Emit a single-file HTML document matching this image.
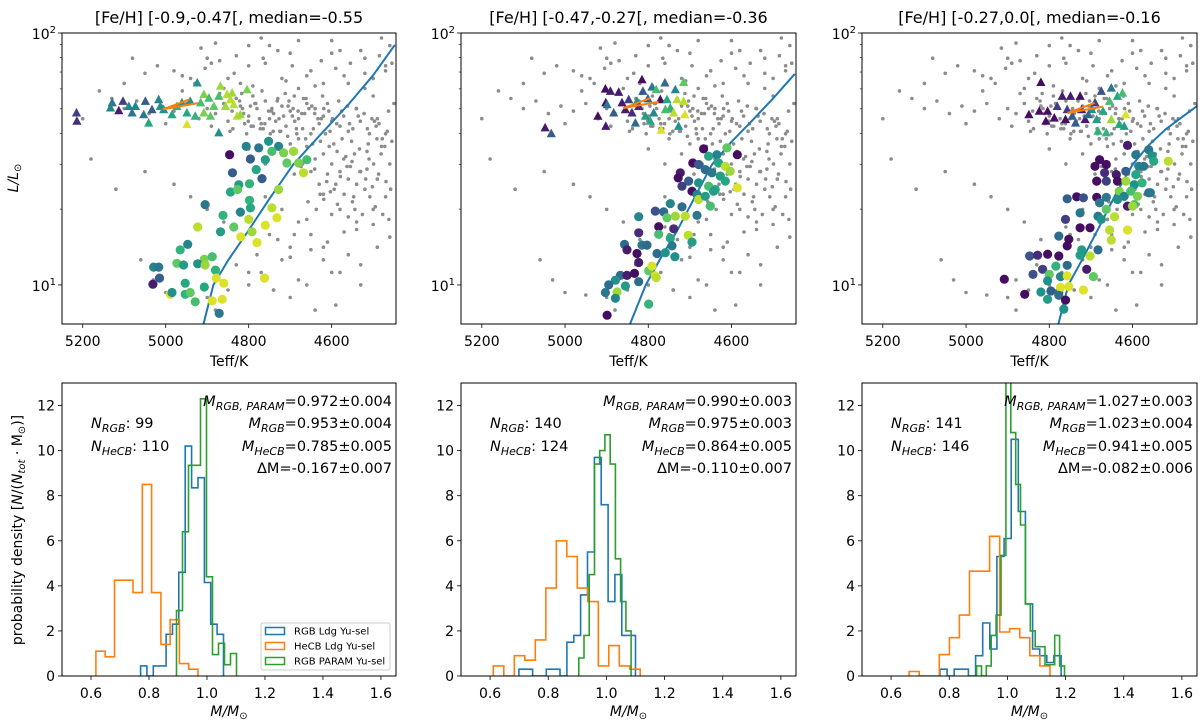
<!DOCTYPE html>
<html><head><meta charset="utf-8"><style>
body{margin:0;background:#fff}
svg{display:block;font-family:"DejaVu Sans","Liberation Sans",sans-serif}
</style></head><body>
<svg id="fig" width="1200" height="725" viewBox="0 0 1200 725" xmlns="http://www.w3.org/2000/svg"></svg>
<script>
// ---------------- DATA ----------------
const panelTitles = ["[Fe/H] [-0.9,-0.47[, median=-0.55","[Fe/H] [-0.47,-0.27[, median=-0.36","[Fe/H] [-0.27,0.0[, median=-0.16"];
const teffTicks = [5200,5000,4800,4600];
const massTicks = [0.6,0.8,1.0,1.2,1.4,1.6];
const densTicks = [0,2,4,6,8,10,12];

// background field stars (shared)
const grayTeff = [4900,4880,4860,4840,4820,4800,4780,4760,4740,4720,4700,4680,4660,4640,4620,4600,4580,4560,4790,4770,4750,4730,4710,4690,4670,4650,4630,4610,4850,4830,4810,4870,4950,4980,5010,5040,5070,5100,5130,5160,5200,4920,4960,5000,4890,
4980,4900,4850,4800,4760,4700,4650,4600,4560,4520,4480,4470,4500,4540,4450,4490,4620,4720,4680,4820,4930,5050,5100,4580,4770,4880,4460,4520,4470,
4620,4600,4580,4560,4540,4520,4640,4660,4680,4700,4610,4590,4570,4550,4530,4510,4490,4470,4650,4630,4620,4670,4690,4720,4750,4760,4800,4480,4460,4500,4540,4580,4600,
4650,4680,4700,4720,4750,4770,4800,4830,4850,4880,4900,4950,5000,5030,5060,4620,4600,4560,4530,4700,4740,4780,4820,4860,4900,4940,4980,5050,5120,5180,4660,4590,4640,4880,4720,4760,
4745,4705,4665,4625,4785,4815,4735,4695,4655,4575,4545,4515,4615,4685,4725,4765,4805,4845,4595,4555,
4812,4796,4774,4752,4731,4716,4693,4672,4648,4633,4607,4588,4571,4549,4531,4509,4493,4478,4822,4801,4783,4761,4744,4727,4703,4681,4662,4641,4619,4598,4576,4557,4536,4514,4497,4466,
4838,4817,4789,4768,4741,4712,4689,4668,4644,4622,4604,4583,4562,4541,4522,4503,4486,4463,4455,4472,4491,4512,4533,4552,4566,4587,4606,4627,4646,4663,4684,4706,4723,4748,4772,4794,
4532,4518,4502,4487,4469,4458,4547,4563,4579,4594,4612,4628,4641,4657,4674,4508,4495,4477,4462,4544,4526,4571,4586,4603,4619,4637,4481,4499,4515,4551,
4940,4905,4870,4835,4800,4765,4730,4695,4660,4625,4590,4555,4520,4485,4455,4915,4860,4790,4710,4640,4570,4500,4470,4530,4600,4680,4750,4830,4890,4960,5020,5080,
4760,4730,4690,4650,4610,4570,4530,4490,4700,4660,4620,4580,4540,4500,4460,4800,4740,4680,4560];
const grayLogL = [1.70,1.68,1.72,1.69,1.71,1.67,1.70,1.73,1.68,1.71,1.69,1.66,1.72,1.70,1.67,1.65,1.63,1.61,1.75,1.64,1.66,1.74,1.63,1.75,1.62,1.60,1.64,1.72,1.65,1.74,1.64,1.76,1.72,1.69,1.71,1.68,1.73,1.70,1.74,1.77,1.66,1.66,1.77,1.64,1.63,
1.85,1.90,1.82,1.95,1.88,1.92,1.85,1.97,1.80,1.90,1.98,1.85,1.75,1.70,1.72,1.66,1.80,1.82,1.78,1.80,1.80,1.84,1.80,1.93,1.98,1.96,1.95,1.78,1.60,
1.52,1.48,1.45,1.42,1.40,1.38,1.50,1.55,1.58,1.56,1.44,1.40,1.36,1.33,1.45,1.50,1.42,1.35,1.45,1.40,1.36,1.48,1.44,1.52,1.58,1.48,1.54,1.55,1.48,1.30,1.25,1.30,1.28,
1.20,1.25,1.15,1.10,1.20,1.05,1.00,1.08,0.98,1.02,0.95,0.96,0.97,1.02,1.10,1.15,1.05,1.12,1.00,0.95,0.98,1.12,1.18,1.25,1.30,1.35,1.40,1.45,1.38,1.50,1.00,0.92,0.90,0.90,1.30,1.35,
1.69,1.71,1.68,1.66,1.72,1.70,1.65,1.67,1.70,1.58,1.52,1.46,1.60,1.62,1.61,1.62,1.60,1.61,1.56,1.47,
1.68,1.71,1.66,1.69,1.73,1.67,1.70,1.68,1.71,1.66,1.69,1.64,1.67,1.62,1.65,1.60,1.63,1.58,1.73,1.65,1.72,1.64,1.70,1.66,1.73,1.69,1.74,1.68,1.70,1.66,1.69,1.64,1.67,1.62,1.65,1.61,
1.62,1.76,1.63,1.77,1.61,1.76,1.65,1.74,1.62,1.75,1.61,1.73,1.71,1.70,1.68,1.66,1.64,1.69,1.57,1.55,1.58,1.56,1.54,1.57,1.51,1.53,1.55,1.57,1.56,1.58,1.60,1.59,1.61,1.60,1.62,1.63,
1.45,1.42,1.39,1.44,1.41,1.38,1.35,1.47,1.43,1.38,1.41,1.36,1.46,1.33,1.47,1.35,1.31,1.28,1.26,1.30,1.28,1.50,1.32,1.37,1.34,1.30,1.52,1.48,1.53,1.49,
1.82,1.86,1.89,1.84,1.87,1.90,1.93,1.87,1.83,1.89,1.86,1.88,1.84,1.91,1.88,1.94,1.78,1.79,1.81,1.79,1.83,1.82,1.87,1.93,1.92,1.97,1.95,1.91,1.88,1.83,1.87,1.90,
1.23,1.18,1.20,1.14,1.17,1.21,1.08,1.15,1.11,1.26,1.10,1.05,1.22,1.24,1.19,1.05,0.98,1.02,1.27];

// panel 1
const p1TriTeff = [5215,5214,5129,5133,5103,5113,5089,5073,5081,5049,5053,5033,5017,5013,5005,5041,4985,4973,4961,4949,4941,4924,4916,4908,4896,4884,4868,4872,4852,4840,4836,4828,4820,4804,4949,4872,4892,4929,4908,4844,4856];
const p1TriLogL = [1.682,1.649,1.722,1.702,1.728,1.691,1.708,1.708,1.682,1.728,1.675,1.695,1.735,1.708,1.695,1.642,1.675,1.708,1.722,1.682,1.728,1.801,1.722,1.755,1.741,1.708,1.788,1.748,1.755,1.761,1.715,1.669,1.675,1.774,1.636,1.603,1.669,1.669,1.682,1.735,1.708];
const p1TriC = [0.2,0.15,0.4,0.45,0.2,0.1,0.45,0.45,0.4,0.3,0.4,0.3,0.45,0.5,0.5,0.6,0.6,0.65,0.55,0.6,0.5,0.5,0.7,0.8,0.7,0.75,0.85,0.7,0.9,0.85,0.9,0.9,0.85,0.8,0.95,0.5,0.75,0.65,0.8,0.9,0.85];
const p1CirTeff = [4846,4806,4776,4752,4728,4744,4716,4692,4708,4680,4660,4668,4796,4760,4782,4839,4768,4798,4824,4844,4827,4728,4905,4798,4820,4796,4862,4800,4744,4732,4923,4836,4868,4792,4760,4819,4780,4947,4965,4907,4888,4973,4957,4923,4905,4880,5029,5017,5015,5031,4953,4907,4878,4860,4989,4985,4953,4941,4929,4888,4864,4871,4762];
const p1CirLogL = [1.517,1.550,1.544,1.570,1.550,1.530,1.524,1.530,1.484,1.484,1.497,1.445,1.500,1.497,1.458,1.445,1.422,1.402,1.398,1.369,1.379,1.379,1.319,1.336,1.289,1.306,1.276,1.260,1.306,1.267,1.230,1.230,1.211,1.211,1.237,1.191,1.168,1.161,1.139,1.102,1.112,1.086,1.079,1.084,1.079,1.059,1.071,1.071,1.027,1.003,1.007,0.992,1.027,1.007,0.963,0.970,0.963,0.970,0.933,0.937,0.943,0.887,1.027];
const p1CirC = [0.05,0.45,0.4,0.5,0.45,0.7,0.8,0.85,0.75,0.8,0.7,0.9,0.3,0.55,0.6,0.3,0.3,0.65,0.55,0.6,0.75,0.85,0.4,0.65,0.45,0.6,0.65,0.9,0.9,0.95,0.9,0.75,0.55,0.85,0.95,0.95,0.95,0.45,0.65,0.8,0.7,0.75,0.55,0.5,0.85,0.65,0.45,0.4,0.3,0.1,0.6,0.6,0.95,0.95,0.95,0.5,0.65,0.75,0.7,0.95,0.95,0.4,0.95];
const p1TrackTeff = [4909,4885,4850,4800,4750,4693,4630,4560,4500,4448];
const p1TrackL = [7,10,12.5,16.5,22,30,39,52,68,89.6];

// panel 2
const p2TriTeff = [5048,5033,4921,4902,4903,4891,4871,4902,4899,4883,4863,4847,4855,4839,4831,4827,4815,4813,4801,4791,4787,4795,4781,4771,4760,4755,4747,4735,4731,4715,4715,4712,4727,4769,4739,4759,4823,4807];
const p2TriLogL = [1.623,1.600,1.669,1.629,1.777,1.768,1.764,1.722,1.715,1.682,1.722,1.735,1.695,1.682,1.642,1.728,1.814,1.768,1.738,1.785,1.682,1.649,1.774,1.735,1.801,1.735,1.702,1.774,1.735,1.803,1.728,1.675,1.629,1.614,1.682,1.695,1.708,1.669];
const p2TriC = [0.1,0.3,0.05,0.1,0.05,0.1,0.1,0.05,0.4,0.3,0.1,0.2,0.1,0.15,0.35,0.5,0.05,0.3,0.35,0.4,0.45,0.6,0.7,0.05,0.35,0.6,0.65,0.45,0.9,0.75,0.9,0.95,0.5,0.95,0.9,0.7,0.15,0.55];
const p2CirTeff = [4667,4611,4586,4693,4679,4655,4635,4631,4615,4603,4663,4647,4627,4723,4728,4703,4679,4655,4639,4615,4586,4719,4695,4683,4679,4663,4643,4747,4719,4683,4651,4783,4763,4755,4735,4711,4823,4775,4739,4775,4704,4695,4823,4857,4815,4803,4747,4743,4851,4827,4779,4759,4736,4823,4799,4783,4867,4851,4833,4879,4895,4855,4823,4903,4875,4879,4799,4899,4781,4791];
const p2CirLogL = [1.540,1.544,1.517,1.484,1.478,1.511,1.517,1.484,1.471,1.451,1.458,1.445,1.432,1.445,1.425,1.412,1.405,1.392,1.379,1.412,1.385,1.392,1.372,1.359,1.339,1.352,1.372,1.323,1.310,1.276,1.313,1.293,1.290,1.267,1.273,1.273,1.271,1.231,1.223,1.201,1.197,1.170,1.207,1.161,1.158,1.158,1.185,1.155,1.139,1.125,1.125,1.128,1.112,1.089,1.056,1.036,1.038,1.038,1.046,1.019,1.000,0.996,1.013,0.970,0.972,0.947,0.924,0.880,1.029,1.075];
const p2CirC = [0.05,0.75,0.05,0.05,0.3,0.6,0.45,0.6,0.9,0.85,0.35,0.4,0.55,0.1,0.05,0.3,0.5,0.7,0.6,0.6,0.95,0.2,0.05,0.45,0.9,0.55,0.55,0.45,0.35,0.4,0.7,0.25,0.35,0.75,0.85,0.9,0.45,0.05,0.15,0.7,0.9,0.55,0.15,0.35,0.4,0.35,0.6,0.4,0.1,0.05,0.35,0.5,0.5,0.1,0.75,0.95,0.35,0.1,0.05,0.5,0.35,0.55,0.35,0.4,0.85,0.45,0.65,0.05,0.9,0.95];
const p2TrackTeff = [4844,4806,4770,4730,4690,4647,4600,4550,4500,4448];
const p2TrackL = [7,10,12.8,16.5,22,30,37,45,55,68.8];

// panel 3
const p3TriTeff = [4820,4849,4824,4808,4788,4781,4769,4757,4749,4745,4737,4726,4722,4714,4698,4686,4683,4675,4671,4663,4655,4651,4651,4636,4632,4624,4620,4616,4690,4706,4804,4761];
const p3TriLogL = [1.803,1.675,1.689,1.649,1.662,1.708,1.748,1.695,1.748,1.669,1.642,1.748,1.695,1.656,1.695,1.656,1.610,1.768,1.689,1.603,1.728,1.781,1.656,1.748,1.636,1.761,1.629,1.675,1.722,1.675,1.689,1.656];
const p3TriC = [0.05,0.05,0.05,0.05,0.05,0.2,0.1,0.2,0.1,0.3,0.3,0.05,0.1,0.1,0.5,0.55,0.65,0.25,0.6,0.65,0.7,0.4,0.85,0.6,0.6,0.7,0.55,0.95,0.2,0.35,0.05,0.05];
const p3CirTeff = [4612,4592,4561,4553,4514,4679,4663,4690,4667,4639,4616,4592,4585,4573,4549,4686,4663,4636,4616,4596,4577,4632,4620,4604,4588,4561,4757,4734,4718,4686,4679,4663,4636,4612,4596,4600,4726,4683,4663,4761,4675,4643,4726,4702,4655,4612,4777,4753,4757,4651,4722,4702,4683,4847,4828,4804,4777,4726,4816,4784,4757,4710,4839,4800,4773,4757,4694,4908,4804,4820,4796,4777,4773,4753,4718,4859,4804,4777,4761,4765,4557];
const p3CirLogL = [1.554,1.517,1.537,1.513,1.491,1.497,1.478,1.471,1.445,1.438,1.451,1.438,1.471,1.471,1.491,1.412,1.412,1.412,1.412,1.398,1.405,1.372,1.352,1.372,1.352,1.366,1.342,1.350,1.346,1.348,1.326,1.348,1.339,1.313,1.319,1.313,1.286,1.273,1.300,1.260,1.260,1.271,1.227,1.227,1.218,1.218,1.194,1.181,1.155,1.178,1.139,1.115,1.139,1.115,1.118,1.122,1.115,1.118,1.062,1.075,1.078,1.062,1.042,1.042,1.033,1.036,1.033,1.023,1.016,0.972,0.976,0.970,0.990,0.994,0.980,0.963,0.943,0.959,0.940,0.904,1.366];
const p3CirC = [0.1,0.4,0.4,0.5,0.9,0.05,0.05,0.05,0.15,0.1,0.3,0.6,0.45,0.4,0.6,0.05,0.2,0.05,0.85,0.5,0.65,0.8,0.45,0.7,0.8,0.35,0.3,0.05,0.25,0.05,0.4,0.4,0.5,0.1,0.7,0.85,0.4,0.4,0.75,0.2,0.5,0.9,0.05,0.05,0.9,0.95,0.35,0.05,0.05,0.9,0.55,0.9,0.35,0.25,0.15,0.05,0.05,0.55,0.2,0.65,0.35,0.1,0.25,0.75,0.45,0.95,0.75,0.05,0.5,0.5,0.3,0.35,0.95,0.95,0.95,0.05,0.55,0.35,0.05,0.5,0.4];
const p3TrackTeff = [4778,4754,4720,4680,4640,4600,4560,4520,4480,4445];
const p3TrackL = [7,10,12.7,17,23,30,36,41.5,46.5,51.3];

// histograms: start, bin width, heights
const h1BlueStart = 0.771, h1BlueW = 0.022, h1Blue = [0.45,0,0.45,0.45,1.85,2.3,4.6,10.2,8.35,8.8,4.15,2.3,1.85];
const h1OrangeStart = 0.617, h1OrangeW = 0.032, h1Orange = [1.1,0.85,4.25,4.25,3.7,8.5,3.7,1.4,2.5,0.55,0.3];
const h1GreenStart = 0.895, h1GreenW = 0.0207, h1Green = [2.9,6.4,9.35,9.35,12.3,4.4,0.95,1.45,0.5,1.0];
const h2BlueStart = 0.699, h2BlueW = 0.0236, h2Blue = [0.3,0.3,0,0,0.3,0.3,0,1.5,1.8,3.6,5.5,9.7,7.6,3.3,4.5,1.8,1.8];
const h2OrangeStart = 0.611, h2OrangeW = 0.0361, h2Orange = [0.45,0,0.9,0.7,1.6,3.9,6.0,5.3,3.9,3.3,0.45,1.35,0.45,0.3];
const h2GreenStart = 0.905, h2GreenW = 0.018, h2Green = [0.8,1.8,4.5,9.4,10.0,10.7,9.4,5.2,3.3,2.0];
const h3BlueStart = 0.768, h3BlueW = 0.0245, h3Blue = [0.3,0,0.3,0.3,0,0.9,2.35,1.2,5.3,6.1,10.5,7.3,3.2,1.2,0.9,0.6,0.9];
const h3OrangeStart = 0.662, h3OrangeW = 0.0346, h3Orange = [0.2,0,0,0.95,1.7,2.7,4.65,4.65,6.2,1.95,2.1,1.7,0.9,0.45];
const h3GreenStart = 0.894, h3GreenW = 0.0168, h3Green = [0.45,0,0.45,1.8,2.7,5.35,14,10.8,8.5,6.7,3.2,2.0,1.3,1.3,0.5,0.5,1.8,0.45];

const nRGB = [99,140,141];
const nHeCB = [110,124,146];
const mParam = ["0.972±0.004","0.990±0.003","1.027±0.003"];
const mRGB = ["0.953±0.004","0.975±0.003","1.023±0.004"];
const mHeCB = ["0.785±0.005","0.864±0.005","0.941±0.005"];
const dM = ["-0.167±0.007","-0.110±0.007","-0.082±0.006"];
const legendLabels = ["RGB Ldg Yu-sel","HeCB Ldg Yu-sel","RGB PARAM Yu-sel"];

// ---------------- DRAWING ----------------
const NS = "http://www.w3.org/2000/svg";
const svg = document.getElementById('fig');
function mk(tag, attrs, parent){
  const e = document.createElementNS(NS, tag);
  for (const k in attrs) e.setAttribute(k, attrs[k]);
  (parent||svg).appendChild(e);
  return e;
}
const VS = [[0,[68,1,84]],[0.13,[72,36,117]],[0.25,[59,82,139]],[0.38,[44,114,142]],[0.5,[33,145,140]],[0.63,[40,174,128]],[0.75,[94,201,98]],[0.88,[173,220,48]],[1,[253,231,37]]];
function viridis(t){
  t=Math.max(0,Math.min(1,t));
  for(let i=1;i<VS.length;i++){ if(t<=VS[i][0]){ const a=VS[i-1],b=VS[i],f=(t-a[0])/(b[0]-a[0]);
    return 'rgb('+a[1].map((v,j)=>Math.round(v+(b[1][j]-v)*f)).join(',')+')'; } }
  return 'rgb(253,231,37)';
}
const PX = [[62,396],[461,796],[862,1197]];
const TOP=[33,324], BOT=[383,676];
const TX=[5250,4445], LY=[0.845,2.0];
const MX=[0.5,1.652], DY=[0,13];
const FS=14;

const panels = [
 {tt:p1TriTeff,tl:p1TriLogL,tc:p1TriC,ct:p1CirTeff,cl:p1CirLogL,cc:p1CirC,kt:p1TrackTeff,kl:p1TrackL,
  hb:[h1BlueStart,h1BlueW,h1Blue],ho:[h1OrangeStart,h1OrangeW,h1Orange],hg:[h1GreenStart,h1GreenW,h1Green]},
 {tt:p2TriTeff,tl:p2TriLogL,tc:p2TriC,ct:p2CirTeff,cl:p2CirLogL,cc:p2CirC,kt:p2TrackTeff,kl:p2TrackL,
  hb:[h2BlueStart,h2BlueW,h2Blue],ho:[h2OrangeStart,h2OrangeW,h2Orange],hg:[h2GreenStart,h2GreenW,h2Green]},
 {tt:p3TriTeff,tl:p3TriLogL,tc:p3TriC,ct:p3CirTeff,cl:p3CirLogL,cc:p3CirC,kt:p3TrackTeff,kl:p3TrackL,
  hb:[h3BlueStart,h3BlueW,h3Blue],ho:[h3OrangeStart,h3OrangeW,h3Orange],hg:[h3GreenStart,h3GreenW,h3Green]}
];

panels.forEach((P,pi)=>{
  const [L,R]=PX[pi];
  const xs = t => L+(t-TX[0])/(TX[1]-TX[0])*(R-L);
  const ys = lg => TOP[1]-(lg-LY[0])/(LY[1]-LY[0])*(TOP[1]-TOP[0]);
  const gTop = mk('g',{});
  
  
  const cid='clipT'+pi;
  const cp=mk('clipPath',{id:cid},gTop); mk('rect',{x:L,y:TOP[0],width:R-L,height:TOP[1]-TOP[0]},cp);
  const plot=mk('g',{'clip-path':'url(#'+cid+')'},gTop);
  grayTeff.forEach((t,i)=>{
    const c=mk('circle',{cx:xs(t).toFixed(1),cy:ys(grayLogL[i]).toFixed(1),r:1.8,fill:'#8c8c8c'},plot);
    
    
  });
  let d='';
  P.kt.forEach((t,i)=>{ d+=(i?'L':'M')+xs(t).toFixed(1)+' '+ys(Math.log10(P.kl[i])).toFixed(1); });
  const tr=mk('path',{d:d,fill:'none',stroke:'#1f77b4','stroke-width':2,'stroke-linejoin':'round'},plot);
  
  
  P.ct.forEach((t,i)=>{
    const c=mk('circle',{cx:xs(t).toFixed(1),cy:ys(P.cl[i]).toFixed(1),r:4.6,fill:viridis(P.cc[i])},plot);
    
    
  });
  P.tt.forEach((t,i)=>{
    const x=xs(t), y=ys(P.tl[i]);
    const p=mk('polygon',{points:`${x.toFixed(1)},${(y-5.2).toFixed(1)} ${(x-4.6).toFixed(1)},${(y+3.4).toFixed(1)} ${(x+4.6).toFixed(1)},${(y+3.4).toFixed(1)}`,fill:viridis(P.tc[i])},plot);
    
    
  });
  const mt = P.tt.reduce((a,b)=>a+b,0)/P.tt.length, ml = P.tl.reduce((a,b)=>a+b,0)/P.tl.length;
  const ar=mk('path',{d:`M${xs(mt+40)} ${ys(ml-0.01)} L${xs(mt-25)} ${ys(ml+0.03)} M${xs(mt+40)} ${ys(ml-0.01)} L${xs(mt-45)} ${ys(ml+0.015)}`,stroke:'#ff7f0e','stroke-width':2,fill:'none'},plot);
  
  
  const fr=mk('rect',{x:L,y:TOP[0],width:R-L,height:TOP[1]-TOP[0],fill:'none',stroke:'#000','stroke-width':1},gTop);
  
  
  teffTicks.forEach(t=>{
    const x=xs(t);
    mk('line',{x1:x,x2:x,y1:TOP[1],y2:TOP[1]+4,stroke:'#000','stroke-width':0.8},gTop);
    const tx=mk('text',{x:x,y:TOP[1]+22,'font-size':FS,'text-anchor':'middle'},gTop); tx.textContent=t;
    
    
  });
  for(let dec=0;dec<2;dec++){
    for(let m=1;m<=9;m++){
      const lg=dec+1+Math.log10(m); if(lg<LY[0]||lg>LY[1]+1e-6) continue;
      const y=ys(lg);
      mk('line',{x1:L,x2:L-(m===1?4:2.2),y1:y,y2:y,stroke:'#000','stroke-width':m===1?0.8:0.6},gTop);
    }
  }
  [1,2].forEach(e=>{
    const y=ys(e);
    const tx=mk('text',{x:L-6,y:y+6,'font-size':FS,'text-anchor':'end'},gTop);
    tx.innerHTML='10<tspan dy="-6" font-size="10">'+e+'</tspan>';
    
    
  });
  const xl=mk('text',{x:(L+R)/2,y:366,'font-size':FS,'text-anchor':'middle'},gTop); xl.textContent='Teff/K';
  
  
  const ti=mk('text',{x:(L+R)/2,y:23,'font-size':16,'text-anchor':'middle'},gTop); ti.textContent=panelTitles[pi];
  
  

  // ---- bottom histogram ----
  const hx = m => L+(m-MX[0])/(MX[1]-MX[0])*(R-L);
  const hy = v => BOT[1]-(v-DY[0])/(DY[1]-DY[0])*(BOT[1]-BOT[0]);
  const gB=mk('g',{});
  
  
  const cb='clipB'+pi;
  const cp2=mk('clipPath',{id:cb},gB); mk('rect',{x:L,y:BOT[0],width:R-L,height:BOT[1]-BOT[0]},cp2);
  const hp=mk('g',{'clip-path':'url(#'+cb+')'},gB);
  [[P.hb,'#1f77b4','rgb-ldg-histogram'],[P.ho,'#ff7f0e','hecb-ldg-histogram'],[P.hg,'#2ca02c','rgb-param-histogram']].forEach(([h,col,nm])=>{
    const [s,w,hs]=h;
    let dd='M'+hx(s).toFixed(1)+' '+hy(0);
    hs.forEach((v,i)=>{ dd+=' L'+hx(s+i*w).toFixed(1)+' '+hy(v).toFixed(1)+' L'+hx(s+(i+1)*w).toFixed(1)+' '+hy(v).toFixed(1); });
    dd+=' L'+hx(s+hs.length*w).toFixed(1)+' '+hy(0);
    const p=mk('path',{d:dd,fill:'none',stroke:col,'stroke-width':1.6},hp);
    
    
  });
  const fr2=mk('rect',{x:L,y:BOT[0],width:R-L,height:BOT[1]-BOT[0],fill:'none',stroke:'#000','stroke-width':1},gB);
  
  
  massTicks.forEach(m=>{
    const x=hx(m);
    mk('line',{x1:x,x2:x,y1:BOT[1],y2:BOT[1]+4,stroke:'#000','stroke-width':0.8},gB);
    const tx=mk('text',{x:x,y:BOT[1]+22,'font-size':FS,'text-anchor':'middle'},gB); tx.textContent=m.toFixed(1);
    
    
  });
  densTicks.forEach(v=>{
    const y=hy(v);
    mk('line',{x1:L,x2:L-4,y1:y,y2:y,stroke:'#000','stroke-width':0.8},gB);
    const tx=mk('text',{x:L-7,y:y+5,'font-size':FS,'text-anchor':'end'},gB); tx.textContent=v;
    
    
  });
  const xl2=mk('text',{x:(L+R)/2,y:716,'font-size':FS,'text-anchor':'middle','font-style':'italic'},gB);
  xl2.innerHTML='M/M<tspan dy="3" font-size="10" font-style="normal">⊙</tspan>';
  
  
  const sub=(t)=>'<tspan dy="4" font-size="11" font-style="italic">'+t+'</tspan><tspan dy="-4">';
  const lines=[
    [L+29,428,'<tspan font-style="italic">N</tspan>'+sub('RGB')+': '+nRGB[pi]+'</tspan>','start','n-rgb-label'],
    [L+29,451,'<tspan font-style="italic">N</tspan>'+sub('HeCB')+': '+nHeCB[pi]+'</tspan>','start','n-hecb-label'],
    [R-4,406,'<tspan font-style="italic">M</tspan>'+sub('RGB, PARAM')+'='+mParam[pi]+'</tspan>','end','m-rgb-param-label'],
    [R-4,428,'<tspan font-style="italic">M</tspan>'+sub('RGB')+'='+mRGB[pi]+'</tspan>','end','m-rgb-label'],
    [R-4,451,'<tspan font-style="italic">M</tspan>'+sub('HeCB')+'='+mHeCB[pi]+'</tspan>','end','m-hecb-label'],
    [R-4,473,'ΔM='+dM[pi],'end','delta-m-label']
  ];
  lines.forEach(([x,y,h,a,nm])=>{
    const t=mk('text',{x:x,y:y,'font-size':14.5,'text-anchor':a},gB); t.innerHTML=h;
    
    
  });
});

const yl1=mk('text',{x:0,y:0,'font-size':FS,'text-anchor':'middle','font-style':'italic',transform:'translate(18,178) rotate(-90)'});
yl1.innerHTML='L/L<tspan dy="3" font-size="10" font-style="normal">⊙</tspan>';


const yl2=mk('text',{x:0,y:0,'font-size':FS,'text-anchor':'middle',transform:'translate(22,530) rotate(-90)'});
yl2.innerHTML='probability density [<tspan font-style="italic">N</tspan>/(<tspan font-style="italic">N</tspan><tspan dy="3" font-size="10" font-style="italic">tot</tspan><tspan dy="-3"> · M</tspan><tspan dy="3" font-size="10">⊙</tspan><tspan dy="-3">)]</tspan>';



const lg=mk('g',{});


mk('rect',{x:261,y:623,width:129,height:47,rx:2,fill:'#fff','fill-opacity':0.8,stroke:'#cccccc'},lg);
const legCols=['#1f77b4','#ff7f0e','#2ca02c'];
legendLabels.forEach((lab,i)=>{
  const y=631+i*15;
  const r=mk('rect',{x:265.5,y:y-3.5,width:19,height:7,fill:'none',stroke:legCols[i],'stroke-width':1.5},lg);
  
  
  const t=mk('text',{x:294,y:y+3.5,'font-size':10},lg); t.textContent=lab;
  
  
});
</script>
</body></html>
